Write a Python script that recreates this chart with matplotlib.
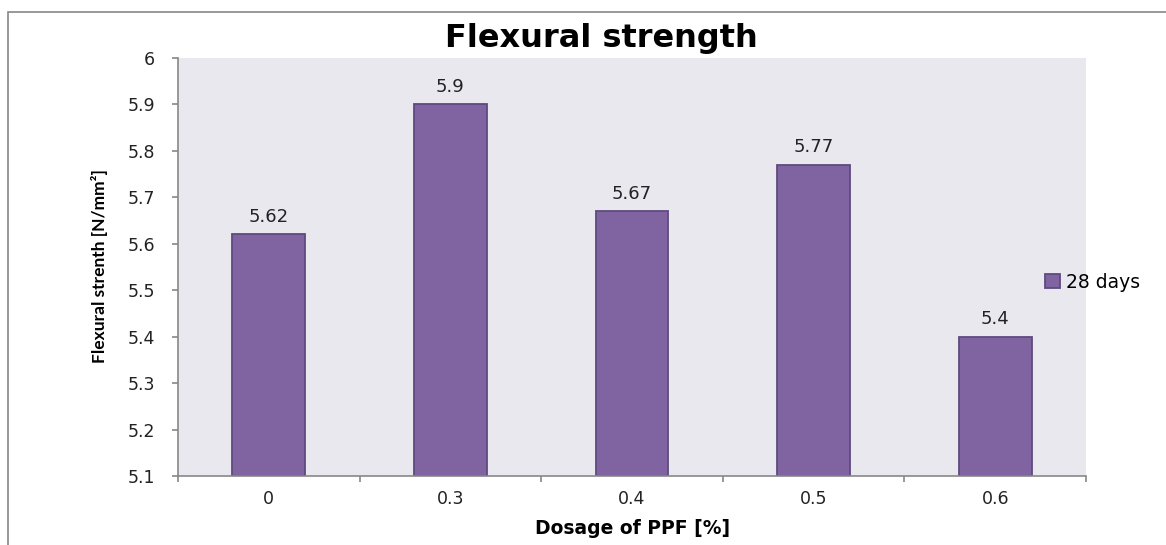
import matplotlib.pyplot as plt
from matplotlib.patches import Rectangle

# Chart data.
dosages = ["0", "0.3", "0.4", "0.5", "0.6"]
strength_28_days = [5.62, 5.9, 5.67, 5.77, 5.4]
y_ticks = [5.1, 5.2, 5.3, 5.4, 5.5, 5.6, 5.7, 5.8, 5.9, 6.0]
y_tick_labels = ["5.1", "5.2", "5.3", "5.4", "5.5", "5.6", "5.7", "5.8", "5.9", "6"]

W, H = 1166, 545
fig = plt.figure(figsize=(W / 100, H / 100), dpi=100)

# Chart frame (runs past the right and bottom edges, as in the source).
fig.patches.append(Rectangle((8 / W, -0.05), 1.1, 1 - 12 / H + 0.05,
                             transform=fig.transFigure, fill=False,
                             edgecolor="#888888", linewidth=1.2))

left, right, top, bottom = 178, 1086, 58, 476
ax = fig.add_axes([left / W, 1 - bottom / H, (right - left) / W, (bottom - top) / H])
ax.set_facecolor("#EAE8EF")

x = range(len(dosages))
bars = ax.bar(x, [v - 5.1 for v in strength_28_days], bottom=5.1, width=0.40,
              color="#8064A2", edgecolor="#5E4A80", linewidth=1.3,
              label="28 days", zorder=2)
for xi, v in zip(x, strength_28_days):
    ax.text(xi, v + 0.018, f"{v:g}", ha="center", va="bottom",
            fontsize=13, family="DejaVu Sans", color="#222222")

ax.set_xlim(-0.5, len(dosages) - 0.5)
ax.set_ylim(5.1, 6.0)
ax.set_yticks(y_ticks)
ax.set_yticklabels(y_tick_labels, fontsize=12.5, color="#222222",
                   family="DejaVu Sans")
ax.set_xticks(list(x))
ax.set_xticklabels(dosages, fontsize=12.5, color="#222222",
                   family="DejaVu Sans")
ax.tick_params(axis="x", length=0, pad=10)
ax.set_xticks([i - 0.5 for i in range(len(dosages) + 1)], minor=True)
ax.tick_params(axis="x", which="minor", length=4.5, color="#888888", width=1.2)
ax.tick_params(axis="y", length=4.5, color="#888888", width=1.2, pad=12)

for side in ("top", "right"):
    ax.spines[side].set_visible(False)
for side in ("left", "bottom"):
    ax.spines[side].set_color("#888888")
    ax.spines[side].set_linewidth(1.2)

fig.text(633 / W, 1 - 528 / H, "Dosage of PPF [%]", ha="center", va="center",
         fontsize=13.5, fontweight="bold", family="DejaVu Sans")
fig.text(100 / W, 1 - 266 / H, "Flexural strenth [N/mm²]", ha="center",
         va="center", rotation=90, fontsize=12.5, fontweight="bold",
         family=["Liberation Sans Narrow", "Lato"])
fig.text(601 / W, 1 - 47 / H, "Flexural strength", ha="center",
         va="baseline", fontsize=23, fontweight="bold", family="DejaVu Sans")

fig.legend(handles=[bars], labels=["28 days"], loc="center left",
           bbox_to_anchor=(1028 / W, 1 - 282 / H), frameon=False,
           prop={"family": "DejaVu Sans", "size": 13.5},
           handlelength=0.8, handleheight=0.8, handletextpad=0.3)

fig.savefig("out.png", dpi=100)
